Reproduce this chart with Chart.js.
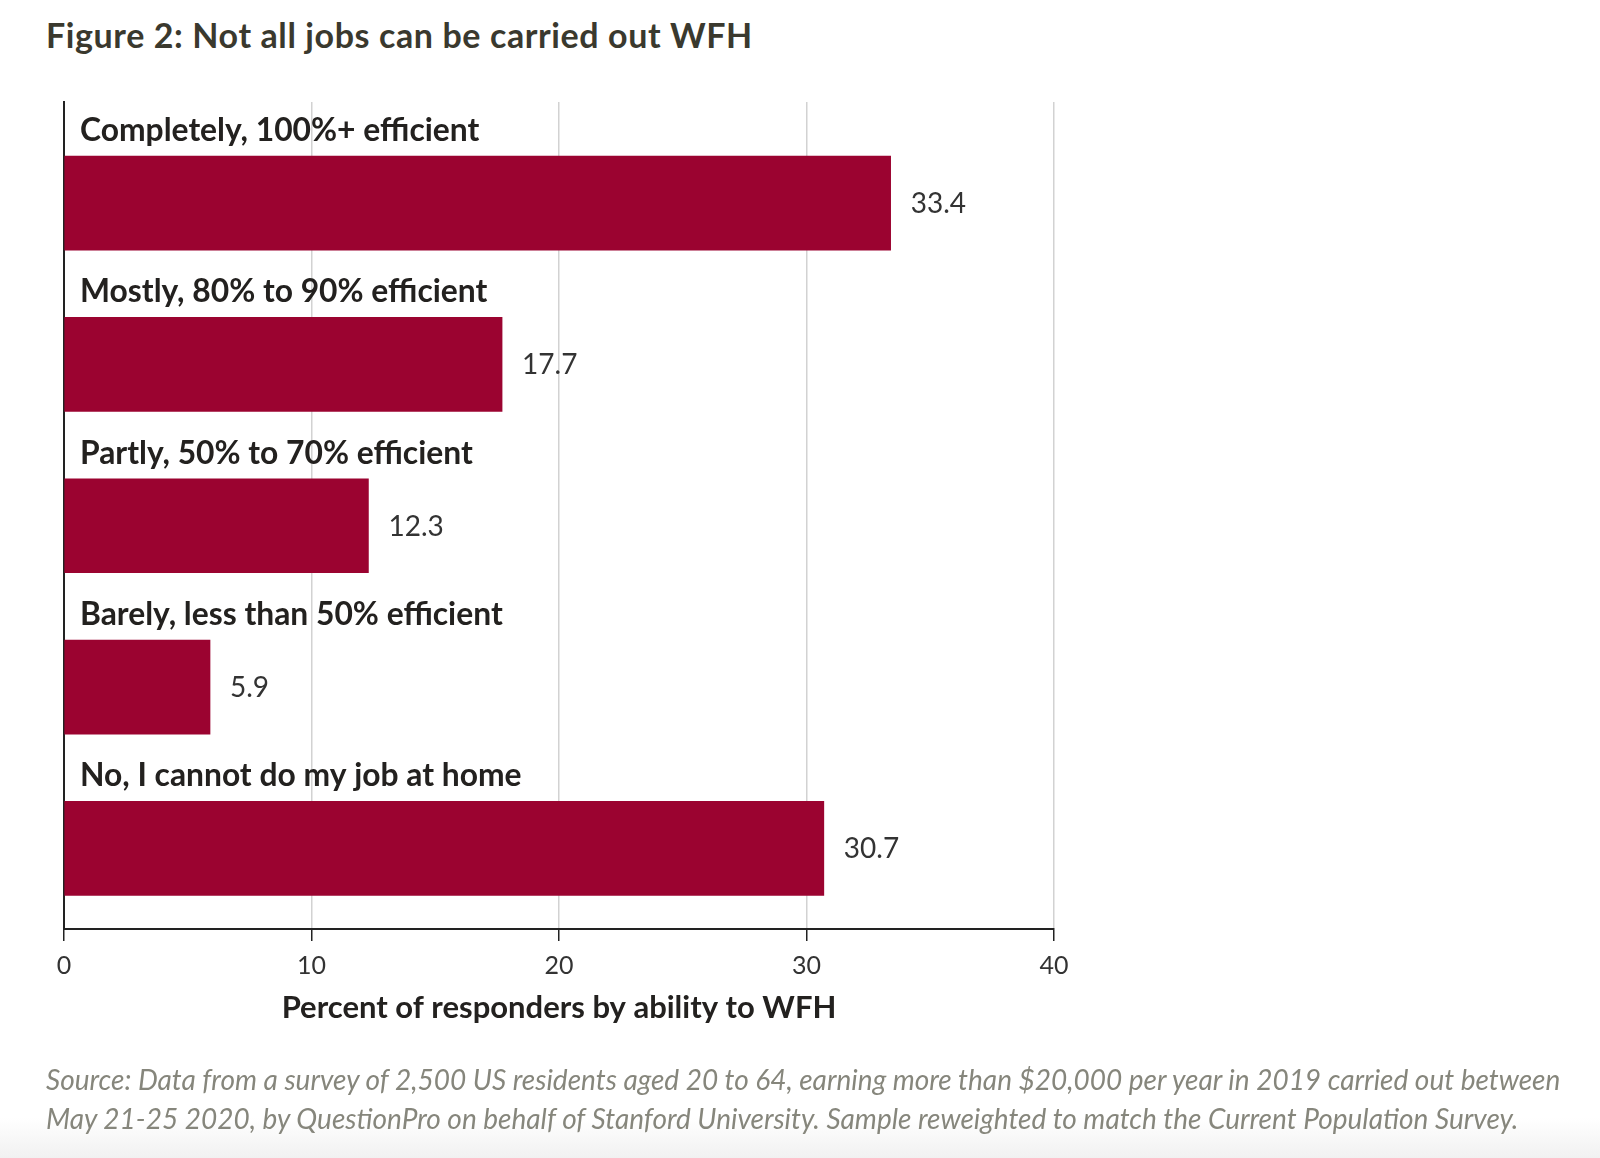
<!DOCTYPE html>
<html>
<head>
<meta charset="utf-8">
<script src="https://cdn.jsdelivr.net/npm/chart.js@4.4.1/dist/chart.umd.min.js"></script>
<style>
  html, body { margin: 0; padding: 0; }
  body {
    width: 1600px; height: 1158px; position: relative; overflow: hidden;
    background: linear-gradient(to bottom, #ffffff 0px, #ffffff 1118px, #f1f1f1 1158px);
  }
  #title {
    position: absolute; left: 46px; top: 14px;
    font-family: Lato, sans-serif; font-weight: 700; font-size: 34px;
    color: #3a392e; white-space: nowrap; letter-spacing: 0.6px;
  }
  #source {
    position: absolute; left: 46px; top: 1060px;
    font-family: Lato, sans-serif; font-style: italic; font-size: 28px;
    line-height: 39px; color: #86867c; white-space: nowrap;
  }
  #wrap { position: absolute; left: 0; top: 0; width: 1600px; height: 1158px; }
</style>
</head>
<body>
<div id="title">Figure 2: Not all jobs can be carried out WFH</div>
<div id="wrap"><canvas id="c" width="1600" height="1158"></canvas></div>
<div id="source">Source: Data from a survey of 2,500 US residents aged 20 to 64, earning more than $20,000 per year in 2019 carried out between<br>May 21-25 2020, by QuestionPro on behalf of Stanford University. Sample reweighted to match the Current Population Survey.</div>
<script>
const categories = [
  "Completely, 100%+ efficient",
  "Mostly, 80% to 90% efficient",
  "Partly, 50% to 70% efficient",
  "Barely, less than 50% efficient",
  "No, I cannot do my job at home"
];
const values = [33.4, 17.7, 12.3, 5.9, 30.7];
const xTicks = [0, 10, 20, 30, 40];
const xAxisTitle = "Percent of responders by ability to WFH";

const barColor = "#9b0330";

const labelPlugin = {
  id: "barLabels",
  afterDatasetsDraw(chart) {
    const ctx = chart.ctx;
    const meta = chart.getDatasetMeta(0);
    const area = chart.chartArea;
    ctx.save();
    meta.data.forEach((bar, i) => {
      ctx.textAlign = "left";
      ctx.textBaseline = "alphabetic";
      ctx.fillStyle = "#23211f";
      ctx.font = "700 31.8px Lato, sans-serif";
      ctx.fillText(categories[i], area.left + 16, bar.y - 62);
      ctx.fillStyle = "#333333";
      ctx.font = "400 28px Lato, sans-serif";
      ctx.fillText(values[i].toFixed(1), bar.x + 20, bar.y + 10);
    });
    ctx.restore();
  }
};

const data = values.map((v, i) => ({ x: v, y: i }));

new Chart(document.getElementById("c"), {
  type: "bar",
  data: {
    datasets: [{
      data: data,
      backgroundColor: barColor,
      borderWidth: 0,
      barThickness: 94
    }]
  },
  options: {
    indexAxis: "y",
    responsive: false,
    animation: false,
    devicePixelRatio: 1,
    layout: { padding: { left: 64, right: 546, top: 102, bottom: 129 } },
    plugins: { legend: { display: false }, tooltip: { enabled: false } },
    scales: {
      y: {
        type: "linear",
        reverse: true,
        offset: false,
        min: -0.627,
        max: 4.5,
        ticks: { display: false, stepSize: 1 },
        grid: { display: false },
        border: { display: true, color: "#222222", width: 2 },
        afterFit(s) { s.width = 0; }
      },
      x: {
        type: "linear",
        position: "bottom",
        offset: false,
        min: 0,
        max: 40,
        afterBuildTicks(s) { s.ticks = xTicks.map(v => ({ value: v })); },
        ticks: {
          padding: 10,
          color: "#333333",
          font: { family: "Lato, sans-serif", size: 25 }
        },
        grid: {
          offset: false,
          color: "#d2d2d2",
          lineWidth: 1.5,
          tickColor: "#222222",
          tickLength: 12,
          drawTicks: true
        },
        border: { display: true, color: "#222222", width: 2 },
        title: {
          display: true,
          text: xAxisTitle,
          color: "#23211f",
          font: { family: "Lato, sans-serif", size: 31, weight: "700" },
          padding: { top: 0, bottom: 2 }
        },
        afterFit(s) { s.height = 100; }
      }
    }
  },
  plugins: [labelPlugin]
});
</script>
</body>
</html>
